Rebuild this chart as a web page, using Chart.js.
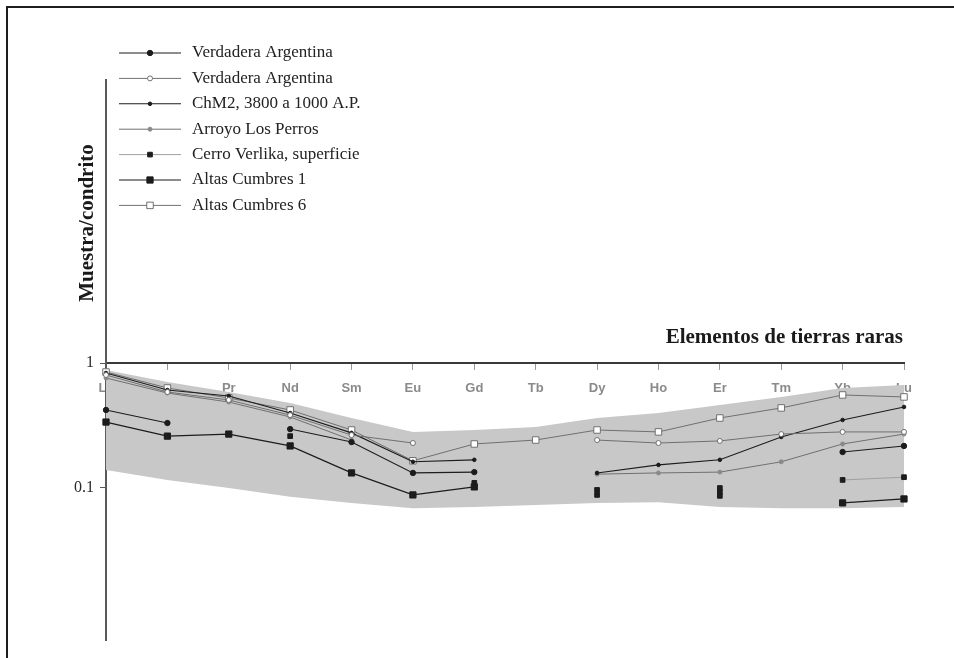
<!DOCTYPE html>
<html>
<head>
<meta charset="utf-8">
<script src="https://cdn.jsdelivr.net/npm/chart.js@4.4.1/dist/chart.umd.min.js"></script>
<style>
  html, body { margin: 0; padding: 0; background: #ffffff; }
  #wrap { position: relative; width: 954px; height: 658px; overflow: hidden; background: #ffffff; }
  #frame { position: absolute; left: 6px; top: 6px; width: 2000px; height: 2000px;
           border-left: 2px solid #1e1e1e; border-top: 2px solid #1e1e1e; }
  #c { position: absolute; left: 0; top: 0; }
</style>
</head>
<body>
<div id="wrap">
  <div id="frame"></div>
  <canvas id="c" width="954" height="658"></canvas>
</div>
<script>
// Rare earth elements, chondrite-normalised (log scale)
const elements = ['La', 'Ce', 'Pr', 'Nd', 'Sm', 'Eu', 'Gd', 'Tb', 'Dy', 'Ho', 'Er', 'Tm', 'Yb', 'Lu'];
const yTickValues = [0.1, 1];
const yTickLabels = ['0.1', '1'];
const seriesNames = [
  'Verdadera Argentina',
  'Verdadera Argentina',
  'ChM2, 3800 a 1000 A.P.',
  'Arroyo Los Perros',
  'Cerro Verlika, superficie',
  'Altas Cumbres 1',
  'Altas Cumbres 6'
];

// Shaded field: upper and lower envelope
const bandUpper = [0.879, 0.705, 0.586, 0.479, 0.363, 0.281, 0.291, 0.308, 0.363, 0.398, 0.462, 0.535, 0.631, 0.667];
const bandLower = [0.139, 0.116, 0.100, 0.085, 0.076, 0.069, 0.0705, 0.0731, 0.076, 0.077, 0.0705, 0.069, 0.069, 0.0705];

// Sample patterns
const verdaderaA      = [0.421, 0.331, null, 0.296, 0.233, 0.132, 0.134, null, null, null, null, null, 0.194, 0.217];
const verdaderaB      = [0.802, 0.586, 0.506, 0.383, 0.265, 0.229, null, null, 0.242, 0.229, 0.238, 0.270, 0.281, 0.281];
const chm2            = [0.832, 0.608, 0.545, 0.398, 0.276, 0.162, 0.168, null, 0.132, 0.153, 0.168, 0.256, 0.350, 0.445];
const arroyoLosPerros = [0.759, 0.575, 0.487, 0.370, 0.242, null, null, null, 0.129, 0.132, 0.134, 0.162, 0.225, 0.270];
const cerroVerlika    = [null, null, null, null, null, null, null, null, 0.0965, null, 0.100, null, 0.116, 0.122];
const cerroVerlikaB   = [null, null, null, 0.260, null, null, 0.110, null, 0.088, null, 0.093, null, null, null];
const cerroVerlikaC   = [null, null, null, null, null, null, null, null, null, null, 0.0865, null, null, null];
const altasCumbres1   = [0.337, 0.260, 0.270, 0.217, 0.132, 0.0880, 0.102, null, null, null, null, null, 0.0760, 0.0817];
const altasCumbres6   = [0.847, 0.631, 0.525, 0.421, 0.291, 0.165, 0.225, 0.242, 0.291, 0.281, 0.363, 0.437, 0.555, 0.535];

const BLACK = '#1c1c1c';
const GRAY = '#707070';
const LIGHT = '#a0a0a0';

function series(label, data, o) {
  return Object.assign({
    label: label,
    data: data,
    borderColor: BLACK,
    borderWidth: 1.1,
    backgroundColor: BLACK,
    pointBorderColor: BLACK,
    pointBackgroundColor: BLACK,
    pointBorderWidth: 1,
    pointRadius: 2.6,
    pointHoverRadius: 2.6,
    pointStyle: 'circle',
    tension: 0,
    fill: false,
    spanGaps: false,
    order: 1,
    inLegend: false
  }, o);
}

const datasets = [
  series(seriesNames[0], verdaderaA, { inLegend: true, spanGaps: 2, pointRadius: 2.7 }),
  series(seriesNames[1], verdaderaB, { inLegend: true, spanGaps: 3, borderColor: GRAY, borderWidth: 1,
    pointBorderColor: GRAY, pointBackgroundColor: '#ffffff', pointRadius: 2.5 }),
  series(seriesNames[2], chm2, { inLegend: true, pointRadius: 1.8 }),
  series(seriesNames[3], arroyoLosPerros, { inLegend: true, borderColor: GRAY, borderWidth: 1,
    pointBorderColor: '#8a8a8a', pointBackgroundColor: '#8a8a8a', pointRadius: 2 }),
  series(seriesNames[4], cerroVerlika, { inLegend: true, borderColor: LIGHT, borderWidth: 1,
    pointStyle: 'rect', pointRadius: 3.3 }),
  series(seriesNames[5], altasCumbres1, { inLegend: true, borderWidth: 1.2, pointStyle: 'rect', pointRadius: 4.4 }),
  series(seriesNames[6], altasCumbres6, { inLegend: true, borderColor: GRAY, borderWidth: 1,
    pointBorderColor: GRAY, pointBackgroundColor: '#ffffff', pointStyle: 'rect', pointRadius: 4.6 }),
  series(seriesNames[4], cerroVerlikaB, { showLine: false, pointStyle: 'rect', pointRadius: 3.3 }),
  series(seriesNames[4], cerroVerlikaC, { showLine: false, pointStyle: 'rect', pointRadius: 3.3 }),
  {
    label: 'envelope-upper', data: bandUpper, borderWidth: 0, borderColor: 'rgba(0,0,0,0)',
    pointRadius: 0, backgroundColor: '#c8c8c8', fill: '+1', tension: 0, order: 10
  },
  {
    label: 'envelope-lower', data: bandLower, borderWidth: 0, borderColor: 'rgba(0,0,0,0)',
    pointRadius: 0, fill: false, tension: 0, order: 10
  }
];

function drawMarker(ctx, ds, x, y) {
  const r = ds.pointRadius;
  ctx.save();
  ctx.fillStyle = ds.pointBackgroundColor;
  ctx.strokeStyle = ds.pointBorderColor;
  ctx.lineWidth = ds.pointBorderWidth;
  ctx.beginPath();
  if (ds.pointStyle === 'rect') {
    const s = Math.SQRT1_2 * r;
    ctx.rect(x - s, y - s, 2 * s, 2 * s);
  } else {
    ctx.arc(x, y, r, 0, Math.PI * 2);
  }
  ctx.fill();
  ctx.stroke();
  ctx.restore();
}

const decor = {
  id: 'decor',
  afterDraw(chart) {
    const ctx = chart.ctx;
    // axis titles
    ctx.save();
    ctx.fillStyle = '#1a1a1a';
    ctx.font = 'bold 21px "Liberation Serif", "Times New Roman", serif';
    ctx.textAlign = 'right';
    ctx.textBaseline = 'middle';
    ctx.fillText('Elementos de tierras raras', 903, 338);
    ctx.translate(88, 223);
    ctx.rotate(-Math.PI / 2);
    ctx.textAlign = 'center';
    ctx.fillText('Muestra/condrito', 0, 0);
    ctx.restore();

    // legend
    const rows = chart.data.datasets.filter(d => d.inLegend);
    ctx.save();
    ctx.font = '17px "Liberation Serif", "Times New Roman", serif';
    ctx.textBaseline = 'middle';
    ctx.textAlign = 'left';
    rows.forEach((ds, i) => {
      const y = 53 + i * 25.4;
      ctx.strokeStyle = ds.borderColor;
      ctx.lineWidth = ds.borderWidth;
      ctx.beginPath();
      ctx.moveTo(119, y);
      ctx.lineTo(181, y);
      ctx.stroke();
      drawMarker(ctx, ds, 150, y);
      ctx.fillStyle = '#222222';
      ctx.fillText(ds.label, 192, y);
    });
    ctx.restore();
  }
};

new Chart(document.getElementById('c'), {
  type: 'line',
  data: { labels: elements, datasets: datasets },
  plugins: [decor],
  options: {
    responsive: false,
    animation: false,
    events: [],
    layout: { padding: { left: 0, top: 80, right: 50, bottom: 18 } },
    plugins: {
      legend: { display: false },
      tooltip: { enabled: false },
      title: { display: false }
    },
    scales: {
      x: {
        type: 'category',
        position: { y: 1 },
        offset: false,
        border: { display: true, color: '#3a3a3a', width: 2 },
        grid: { drawOnChartArea: false, drawTicks: true, tickLength: 6, color: '#9a9a9a' },
        ticks: {
          color: '#8a8a8a',
          padding: 12,
          maxRotation: 0,
          autoSkip: false,
          font: { family: '"Liberation Sans", Arial, sans-serif', size: 13, weight: 'bold' }
        }
      },
      y: {
        type: 'logarithmic',
        position: 'left',
        min: 0.00608,
        max: 183.7,
        afterFit(scale) { scale.width = 106; },
        afterBuildTicks(scale) { scale.ticks = yTickValues.map(v => ({ value: v })); },
        border: { display: true, color: '#5a5a5a', width: 2 },
        grid: { drawOnChartArea: false, drawTicks: true, tickLength: 6, color: '#5a5a5a' },
        ticks: {
          color: '#2a2a2a',
          padding: 6,
          autoSkip: false,
          font: { family: '"Liberation Serif", "Times New Roman", serif', size: 16 },
          callback: (v, i) => yTickLabels[i]
        }
      }
    }
  }
});
</script>
</body>
</html>
